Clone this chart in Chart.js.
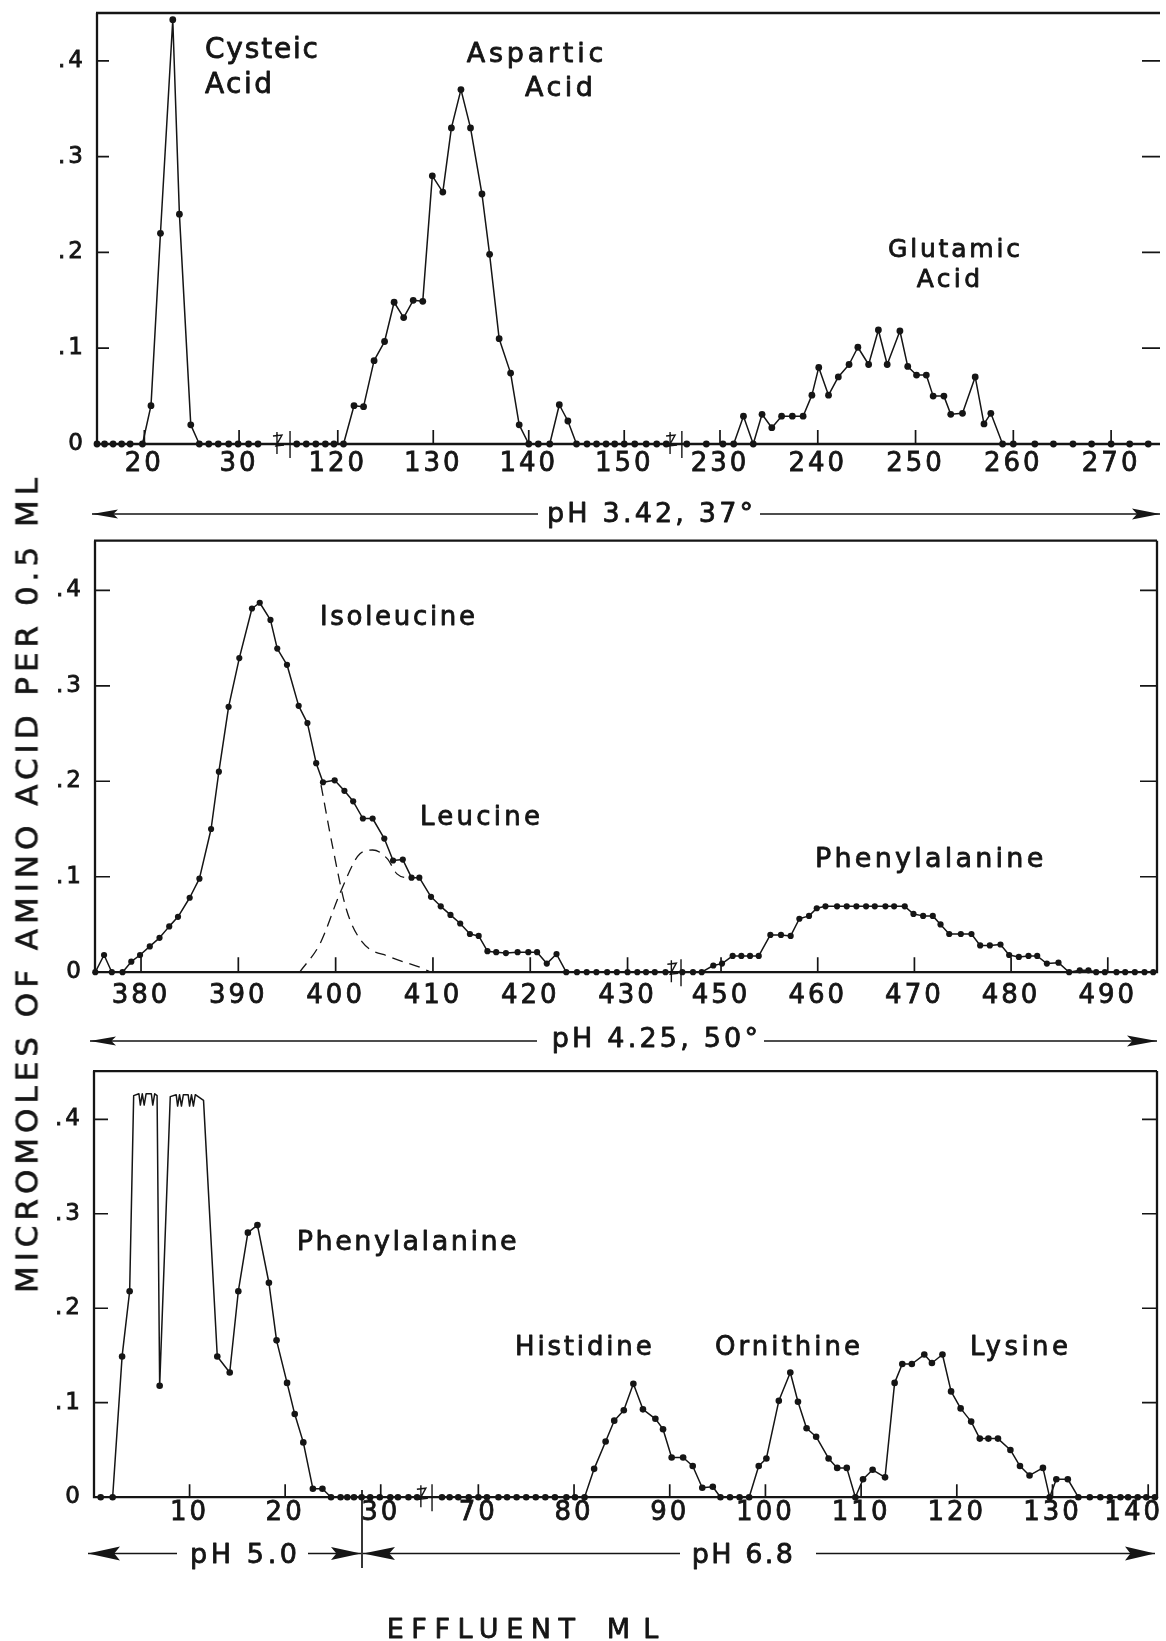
<!DOCTYPE html>
<html>
<head>
<meta charset="utf-8">
<script src="https://cdn.jsdelivr.net/npm/chart.js@4.4.1/dist/chart.umd.min.js"></script>
<style>
  html, body { margin: 0; padding: 0; background: #fff; }
  #wrap { position: relative; width: 1166px; height: 1641px; overflow: hidden; background: #fff; }
  #wrap canvas { position: absolute; left: 0; display: block; }
  #ytitle { position: absolute; white-space: nowrap; line-height: 1; color: #151515;
            font-family: "DejaVu Sans", "Liberation Sans", sans-serif; font-size: 31px; z-index: 5;
            -webkit-text-stroke: 0.7px #151515; }
</style>
</head>
<body>
<div id="wrap">
  <canvas id="cTop" width="1166" height="530" style="top:0px"></canvas>
  <canvas id="cMid" width="1166" height="530" style="top:530px"></canvas>
  <canvas id="cBot" width="1166" height="581" style="top:1060px"></canvas>
  <div id="ytitle">MICROMOLES OF AMINO ACID PER 0.5 ML</div>
</div>
<script>
// ---------------- DATA (effluent ml, micromoles per 0.5 ml) ----------------
const yTickVals = [0, 0.1, 0.2, 0.3, 0.4];
const topTicks = [20, 30, 120, 130, 140, 150, 230, 240, 250, 260, 270];
const midTicks = [380, 390, 400, 410, 420, 430, 450, 460, 470, 480, 490];
const botTicks = [10, 20, 30, 70, 80, 90, 100, 110, 120, 130, 140];

// Panel 1: pH 3.42, 37°
const cysteicMl  = [15.0,15.8,16.7,17.6,18.5,19.8,20.7,21.7,23.0,23.7,24.9,25.8,26.8,27.8,28.9,29.9,31.0,32.0];
const cysteicVal = [0,0,0,0,0,0,0.040,0.220,0.443,0.240,0.020,0,0,0,0,0,0,0];

const asparticMl  = [115.7,116.7,117.7,118.7,119.6,120.6,121.7,122.7,123.8,124.9,125.9,126.9,127.9,128.9,129.9,131.0,131.9,132.9,133.9,135.1,135.9,136.9,138.1,139.0,140.0,141.0,142.2,143.2,144.1,145.0,146.1,147.1,148.1,149.0,150.0,151.1,152.3,153.4,154.4];
const asparticVal = [0,0,0,0,0,0,0.040,0.039,0.087,0.107,0.148,0.132,0.150,0.149,0.280,0.263,0.330,0.370,0.330,0.261,0.198,0.110,0.074,0.020,0,0,0,0.041,0.024,0,0,0,0,0,0,0,0,0,0];

const glutamicMl  = [226.6,228.6,230.3,231.4,232.4,233.4,234.3,235.3,236.3,237.4,238.5,239.4,240.1,241.1,242.1,243.2,244.1,245.2,246.2,247.1,248.4,249.2,250.1,251.1,251.8,252.9,253.6,254.8,256.1,257.0,257.7,258.9,260.0,262.2,264.1,266.1,268.0,270.0,271.9,273.8];
const glutamicVal = [0,0,0,0,0.029,0,0.031,0.017,0.029,0.029,0.029,0.051,0.080,0.051,0.070,0.083,0.101,0.083,0.119,0.083,0.118,0.081,0.072,0.072,0.050,0.050,0.031,0.032,0.070,0.021,0.032,0,0,0,0,0,0,0,0,0];

// Panel 2: pH 4.25, 50°
const isoLeuMl  = [375.3,376.2,377.0,378.1,379.0,379.9,380.9,381.9,382.9,383.8,385.0,386.0,387.2,388.0,389.0,390.1,391.4,392.2,393.3,394.0,395.0,396.2,397.1,398.0,398.7,399.9,400.9,401.8,402.8,403.8,405.0,405.9,406.9,407.8,408.6,409.8,410.8,411.8,412.8,413.8,414.7,415.6,416.5,417.5,418.7,419.8,420.7,421.7,422.7,423.7,424.8,425.8,426.8,427.9,428.9,430.0,431.0,431.9,432.8,433.9];
const isoLeuVal = [0,0.018,0,0,0.011,0.018,0.027,0.036,0.048,0.058,0.078,0.098,0.150,0.210,0.278,0.329,0.381,0.387,0.369,0.339,0.322,0.279,0.261,0.219,0.199,0.201,0.190,0.179,0.161,0.161,0.140,0.117,0.118,0.099,0.099,0.079,0.069,0.060,0.051,0.040,0.038,0.022,0.021,0.020,0.021,0.021,0.021,0.009,0.019,0,0,0,0,0,0,0,0,0,0,0];

const isoDashMl  = [398.5,399.7,401.1,402.7,405.6,408.7,409.8];
const isoDashVal = [0.196,0.131,0.066,0.032,0.016,0.005,0];
const leuDashMl  = [396.3,398.4,400.5,402.5,403.8,405.3,406.3,407.6];
const leuDashVal = [0,0.030,0.084,0.124,0.128,0.119,0.103,0.098];

const pheMidMl  = [446.0,447.1,448.0,449.2,450.1,451.2,452.1,453.0,453.9,455.1,456.2,457.2,458.1,459.1,459.9,460.8,462.0,463.0,464.0,465.0,465.9,467.0,467.9,469.0,469.9,470.9,471.9,472.7,473.6,474.8,475.9,476.8,477.8,478.9,479.8,480.8,481.8,482.7,483.7,484.9,486.0,487.1,488.0,488.8,489.7,490.9,491.8,492.8,493.8,494.7];
const pheMidVal = [0,0,0,0.007,0.009,0.017,0.017,0.017,0.017,0.039,0.039,0.038,0.056,0.059,0.067,0.069,0.069,0.069,0.069,0.069,0.069,0.069,0.069,0.069,0.061,0.059,0.059,0.050,0.040,0.040,0.040,0.028,0.028,0.029,0.018,0.016,0.017,0.017,0.009,0.010,0,0.002,0.002,0,0,0,0,0,0,0];

// Panel 3: pH 5.0 then pH 6.8
const pheBotMl  = [0.7,1.95,2.94,3.73,6.87,12.9,14.2,15.1,16.1,17.1,18.3,19.1,20.2,21.0,21.9,22.9,23.9,24.8,25.8,26.5,27.2,28.0,28.9,29.9,31.0,31.8,32.9,33.8];
const pheBotVal = [0,0,0.149,0.218,0.118,0.149,0.132,0.218,0.280,0.288,0.227,0.166,0.121,0.088,0.058,0.009,0.009,0,0,0,0,0,0,0,0,0,0,0];
// off-scale recorder trace (pen at top of scale, no readings)
const offscaleMl  = [4.15,4.7,4.85,5.05,5.25,5.45,6.0,6.15,6.35,6.6,7.98,8.6,8.75,8.95,9.15,9.35,9.85,10.0,10.2,10.4,10.6,11.46];
const offscaleVal = [0.425,0.427,0.415,0.427,0.415,0.427,0.427,0.415,0.427,0.425,0.424,0.426,0.414,0.426,0.414,0.426,0.426,0.414,0.426,0.414,0.426,0.420];

const basicMl  = [66.2,67.0,67.9,69.0,70.0,70.9,72.1,73.0,74.0,75.0,76.0,77.0,78.0,79.2,80.1,81.1,82.1,83.3,84.2,85.2,86.2,87.2,88.5,89.3,90.2,91.4,92.4,93.4,94.5,95.3,96.3,97.3,98.3,99.3,100.1,101.4,102.6,103.4,104.3,105.3,106.6,107.5,108.5,109.4,110.2,111.2,112.5,113.5,114.3,115.3,116.6,117.4,118.5,119.4,120.4,121.5,122.4,123.3,124.3,125.6,126.6,127.6,129.0,129.7,130.4,131.6,132.7,133.9,135.0,136.0,137.1,137.9,138.9,139.8,140.7];
const basicVal = [0,0,0,0,0,0,0,0,0,0,0,0,0,0,0,0,0.030,0.059,0.081,0.092,0.120,0.093,0.083,0.072,0.042,0.042,0.033,0.010,0.011,0,0,0,0,0.033,0.041,0.102,0.132,0.101,0.073,0.064,0.041,0.031,0.031,0,0.019,0.029,0.021,0.121,0.141,0.141,0.151,0.142,0.151,0.112,0.094,0.080,0.062,0.062,0.062,0.050,0.033,0.023,0.031,0,0.019,0.019,0,0,0,0,0,0,0,0,0];

// ---------------- LAYOUT / STYLE ----------------
const INK = '#151515';
const FONT = '"DejaVu Sans", "Liberation Sans", sans-serif';

// broken x-axis: each segment maps [min,max] ml onto [start,end] fraction of the axis
const SEGMENTS = {
  top: [{min: 15, max: 34, start: 0, end: 0.1693},
        {min: 115, max: 154.8, start: 0.1816, end: 0.5391},
        {min: 226.1, max: 275, start: 0.5502, end: 1}],
  mid: [{min: 375.27, max: 434.5, start: 0, end: 0.5427},
        {min: 445.86, max: 495.09, start: 0.5518, end: 1}],
  bot: [{min: 0, max: 34.2, start: 0, end: 0.3075},
        {min: 65.16, max: 140.92, start: 0.3180, end: 1}]
};

class BrokenLinearScale extends Chart.LinearScale {
  segs() { return SEGMENTS[this.options.segmentKey]; }
  getPixelForValue(value) {
    const segs = this.segs();
    if (!segs || value === null || value === undefined || isNaN(value)) return super.getPixelForValue(value);
    let frac = null;
    for (let i = 0; i < segs.length; i++) {
      const s = segs[i];
      if (value <= s.max || i === segs.length - 1) {
        if (value >= s.min || i === 0) {
          frac = s.start + (value - s.min) / (s.max - s.min) * (s.end - s.start);
        } else {
          const p = segs[i - 1];
          frac = p.end + (value - p.max) / (s.min - p.max) * (s.start - p.end);
        }
        break;
      }
    }
    return this.getPixelForDecimal(frac);
  }
  getValueForPixel(pixel) {
    const segs = this.segs();
    if (!segs) return super.getValueForPixel(pixel);
    const d = this.getDecimalForPixel(pixel);
    for (let i = 0; i < segs.length; i++) {
      const s = segs[i];
      if (d <= s.end || i === segs.length - 1) {
        if (d >= s.start || i === 0) return s.min + (d - s.start) / (s.end - s.start) * (s.max - s.min);
        const p = segs[i - 1];
        return p.max + (d - p.end) / (s.start - p.end) * (s.min - p.max);
      }
    }
    return null;
  }
}
BrokenLinearScale.id = 'brokenLinear';
BrokenLinearScale.defaults = Chart.LinearScale.defaults;
Chart.register(BrokenLinearScale);

const PANELS = {
  top: {
    key: 'top', canvasId: 'cTop', canvasW: 1166, canvasH: 530,
    area: {left: 97, right: 1160, top: 13, bottom: 444}, yMax: 0.45, closed: false,
    xTicks: topTicks, xLabelPad: 5, yTickL: 12, yTickR: 18, xTickLen: 14, pointR: 3.4,
    labels: [
      {t: 'Cysteic',  x0: 205,   x1: 318,   yc: 47.5,  size: 28},
      {t: 'Acid',     x0: 205,   x1: 272,   yc: 82.5,  size: 28},
      {t: 'Aspartic', x0: 466.7, x1: 603.3, yc: 51.7,  size: 27},
      {t: 'Acid',     x0: 525,   x1: 593,   yc: 86,    size: 27},
      {t: 'Glutamic', x0: 888,   x1: 1020,  yc: 247.5, size: 25},
      {t: 'Acid',     x0: 916.7, x1: 980,   yc: 277.5, size: 25}
    ],
    row: {
      y: 514, lines: [[92, 538], [760, 1160]],
      heads: [{x: 92, dir: -1, len: 26, half: 4.5}, {x: 1160, dir: 1, len: 28, half: 5.5}],
      texts: [{t: 'pH 3.42, 37°', x0: 547, x1: 753, yc: 512, size: 27}]
    }
  },
  mid: {
    key: 'mid', canvasId: 'cMid', canvasW: 1166, canvasH: 530,
    area: {left: 95, right: 1157, top: 10.7, bottom: 442.2}, yMax: 0.452, closed: true,
    xTicks: midTicks, xLabelPad: 8, yTickL: 15, yTickR: 17, xTickLen: 15, pointR: 3.1,
    labels: [
      {t: 'Isoleucine',    x0: 320, x1: 475,    yc: 85.5,  size: 26},
      {t: 'Leucine',       x0: 420, x1: 540,    yc: 285.3, size: 26},
      {t: 'Phenylalanine', x0: 815, x1: 1043.3, yc: 327.5, size: 27}
    ],
    row: {
      y: 511, lines: [[90, 537], [764, 1157]],
      heads: [{x: 90, dir: -1, len: 26, half: 4.5}, {x: 1157, dir: 1, len: 30, half: 5.5}],
      texts: [{t: 'pH 4.25, 50°', x0: 551.7, x1: 758, yc: 507, size: 27}]
    }
  },
  bot: {
    key: 'bot', canvasId: 'cBot', canvasW: 1166, canvasH: 581,
    area: {left: 94, right: 1157, top: 11.1, bottom: 437.2}, yMax: 0.451, closed: true,
    xTicks: botTicks, xLabelPad: 0, yTickL: 14, yTickR: 15, xTickLen: 13, pointR: 3.3,
    lastLabelRightEdge: 1163,
    labels: [
      {t: 'Phenylalanine', x0: 296.7, x1: 516.7, yc: 179.7, size: 27},
      {t: 'Histidine',     x0: 515,   x1: 651.7, yc: 286,   size: 26},
      {t: 'Ornithine',     x0: 715,   x1: 860,   yc: 286,   size: 26},
      {t: 'Lysine',        x0: 970,   x1: 1068,  yc: 286,   size: 26},
      {t: 'EFFLUENT',      x0: 386.7, x1: 575,   yc: 568.3, size: 27},
      {t: 'ML',            x0: 606.7, x1: 658.3, yc: 568.3, size: 27}
    ],
    row: {
      y: 493.5, lines: [[88, 177], [308, 361], [363, 680], [816, 1155]],
      heads: [{x: 88, dir: -1, len: 32, half: 7}, {x: 361, dir: 1, len: 30, half: 6.5},
              {x: 363, dir: -1, len: 32, half: 6.5}, {x: 1155, dir: 1, len: 30, half: 7}],
      texts: [{t: 'pH 5.0', x0: 190, x1: 297, yc: 493, size: 27},
              {t: 'pH 6.8', x0: 691.7, x1: 793, yc: 493, size: 27}],
      sep: {x: 362, y0: 430, y1: 508}
    }
  }
};

// ---------------- HELPERS ----------------
const zip = (xs, ys) => xs.map((x, i) => ({x: x, y: ys[i]}));

function series(label, xs, ys, extra) {
  return Object.assign({
    label: label, data: zip(xs, ys),
    borderColor: INK, backgroundColor: INK, borderWidth: 1.5,
    pointRadius: 3, pointBackgroundColor: INK, pointBorderWidth: 0, pointHoverRadius: 0,
    tension: 0, clip: false, fill: false, borderJoinStyle: 'round'
  }, extra || {});
}

function fitText(ctx, L) {
  ctx.font = L.size + 'px ' + FONT;
  ctx.letterSpacing = '0px';
  const w0 = ctx.measureText(L.t).width;
  const n = L.t.length;
  const sp = n > 1 ? (L.x1 - L.x0 - w0) / (n - 1) : 0;
  ctx.letterSpacing = sp.toFixed(2) + 'px';
  ctx.textAlign = 'left';
  ctx.textBaseline = 'alphabetic';
  const yb = L.yc + 0.3645 * L.size;
  ctx.fillText(L.t, L.x0, yb);
  ctx.lineWidth = 0.8;
  ctx.lineJoin = 'round';
  ctx.strokeText(L.t, L.x0, yb);
  ctx.letterSpacing = '0px';
}

function arrowHead(ctx, h, y) {
  const bx = h.x - h.dir * h.len;
  ctx.beginPath();
  ctx.moveTo(h.x, y);
  ctx.lineTo(bx, y - h.half);
  ctx.lineTo(h.x - h.dir * h.len * 0.82, y);
  ctx.lineTo(bx, y + h.half);
  ctx.closePath();
  ctx.fill();
}

function panelPlugin(P) {
  return {
    id: 'panelDeco_' + P.key,
    beforeDraw(chart) {
      chart.ctx.letterSpacing = '3px';
      // keep the last tick label of a panel inside the page (as in the original)
      if (P.lastLabelRightEdge) {
        const xs = chart.scales.x;
        const items = xs.getLabelItems(chart.chartArea);
        const last = items[items.length - 1];
        if (last && last.options && last.options.translation) {
          last.options.textAlign = 'right';
          last.options.translation[0] = P.lastLabelRightEdge;
        }
      }
    },
    afterDraw(chart) {
      const ctx = chart.ctx, a = chart.chartArea;
      const xs = chart.scales.x, ys = chart.scales.y;
      ctx.save();
      ctx.letterSpacing = '0px';
      ctx.strokeStyle = INK; ctx.fillStyle = INK; ctx.lineCap = 'butt';

      // frame
      ctx.lineWidth = 2.3;
      ctx.beginPath();
      ctx.moveTo(a.left, a.top); ctx.lineTo(a.left, a.bottom); ctx.lineTo(a.right, a.bottom);
      ctx.moveTo(a.left - 1, a.top); ctx.lineTo(a.right, a.top);
      if (P.closed) { ctx.moveTo(a.right, a.top); ctx.lineTo(a.right, a.bottom + 1); }
      ctx.stroke();

      // inward tick marks
      ctx.lineWidth = 1.7;
      ctx.beginPath();
      yTickVals.forEach(v => {
        if (v <= 0) return;
        const py = ys.getPixelForValue(v);
        ctx.moveTo(a.left, py); ctx.lineTo(a.left + P.yTickL, py);
        ctx.moveTo(a.right - P.yTickR, py); ctx.lineTo(a.right, py);
      });
      P.xTicks.forEach(v => {
        const px = xs.getPixelForValue(v);
        ctx.moveTo(px, a.bottom); ctx.lineTo(px, a.bottom - P.xTickLen);
      });
      ctx.stroke();

      // axis break marks
      const segs = SEGMENTS[P.key];
      ctx.lineWidth = 1.4;
      for (let i = 0; i < segs.length - 1; i++) {
        const g0 = xs.getPixelForDecimal(segs[i].end);
        const g1 = xs.getPixelForDecimal(segs[i + 1].start);
        const y = a.bottom;
        ctx.beginPath();
        ctx.moveTo(g0, y - 12); ctx.lineTo(g0, y + 10);
        ctx.moveTo(g1, y - 13); ctx.lineTo(g1, y + 14);
        ctx.moveTo(g0 - 4, y - 8); ctx.lineTo(g0 + 5, y - 9);
        ctx.lineTo(g0 - 1, y + 2); ctx.lineTo(g0 + 7, y + 1);
        ctx.stroke();
      }

      // peak labels
      P.labels.forEach(L => fitText(ctx, L));

      // pH arrow row
      const R = P.row;
      ctx.lineWidth = 1.7;
      ctx.beginPath();
      R.lines.forEach(l => { ctx.moveTo(l[0], R.y); ctx.lineTo(l[1], R.y); });
      if (R.sep) { ctx.moveTo(R.sep.x, R.sep.y0); ctx.lineTo(R.sep.x, R.sep.y1); }
      ctx.stroke();
      R.heads.forEach(h => arrowHead(ctx, h, R.y));
      R.texts.forEach(T => fitText(ctx, T));

      ctx.restore();
      ctx.letterSpacing = '0px';
    }
  };
}

function zeroPad(s) { s.paddingLeft = 0; s.paddingRight = 0; s.paddingTop = 0; s.paddingBottom = 0; }

function makePanel(P, datasets) {
  const segs = SEGMENTS[P.key];
  datasets.forEach(d => { if (d.pointRadius !== 0) d.pointRadius = P.pointR; });
  return new Chart(document.getElementById(P.canvasId), {
    type: 'line',
    data: { datasets: datasets },
    options: {
      responsive: false, animation: false, devicePixelRatio: 1, events: [],
      layout: { padding: { top: P.area.top, right: P.canvasW - P.area.right, left: 0, bottom: 0 } },
      plugins: { legend: { display: false }, tooltip: { enabled: false }, title: { display: false } },
      scales: {
        x: {
          type: 'brokenLinear', segmentKey: P.key,
          min: segs[0].min, max: segs[segs.length - 1].max,
          grid: { display: false, drawTicks: false }, border: { display: false },
          ticks: { autoSkip: false, maxRotation: 0, minRotation: 0, padding: P.xLabelPad, color: INK,
                   textStrokeColor: INK, textStrokeWidth: 0.8,
                   font: { family: FONT, size: 26 }, callback: v => String(v) },
          afterBuildTicks: s => { s.ticks = P.xTicks.map(v => ({ value: v })); },
          afterFit: s => { s.height = P.canvasH - P.area.bottom; zeroPad(s); }
        },
        y: {
          type: 'linear', min: 0, max: P.yMax,
          grid: { display: false, drawTicks: false }, border: { display: false },
          ticks: { padding: 11, color: INK, textStrokeColor: INK, textStrokeWidth: 0.8,
                   font: { family: FONT, size: 23 },
                   callback: v => (v === 0 ? '0' : '.' + Math.round(v * 10)) },
          afterBuildTicks: s => { s.ticks = yTickVals.map(v => ({ value: v })); },
          afterFit: s => { s.width = P.area.left; zeroPad(s); }
        }
      }
    },
    plugins: [panelPlugin(P)]
  });
}

// ---------------- CHARTS ----------------
makePanel(PANELS.top, [
  series('Cysteic acid', cysteicMl, cysteicVal),
  series('Aspartic acid', asparticMl, asparticVal),
  series('Glutamic acid', glutamicMl, glutamicVal)
]);

makePanel(PANELS.mid, [
  series('Isoleucine + Leucine', isoLeuMl, isoLeuVal),
  series('Isoleucine (resolved)', isoDashMl, isoDashVal,
         { pointRadius: 0, borderWidth: 1.3, borderDash: [11, 7], tension: 0.4, cubicInterpolationMode: 'monotone' }),
  series('Leucine (resolved)', leuDashMl, leuDashVal,
         { pointRadius: 0, borderWidth: 1.3, borderDash: [11, 7], tension: 0.4, cubicInterpolationMode: 'monotone' }),
  series('Phenylalanine', pheMidMl, pheMidVal)
]);

const pheTraceMl = pheBotMl.concat(offscaleMl);
const pheTraceVal = pheBotVal.concat(offscaleVal);
const order = pheTraceMl.map((x, i) => i).sort((i, j) => pheTraceMl[i] - pheTraceMl[j]);
makePanel(PANELS.bot, [
  series('pH 5.0 trace', order.map(i => pheTraceMl[i]), order.map(i => pheTraceVal[i]), { pointRadius: 0 }),
  series('pH 5.0 readings', pheBotMl, pheBotVal, { showLine: false }),
  series('pH 6.8 (histidine, ornithine, lysine)', basicMl, basicVal)
]);

// ---------------- Y-AXIS TITLE (spans all panels) ----------------
(function () {
  const el = document.getElementById('ytitle');
  const text = el.textContent;
  const mctx = document.createElement('canvas').getContext('2d');
  mctx.font = '31px ' + FONT;
  const w0 = mctx.measureText(text).width;
  const target = 815;
  const sp = (target - w0) / (text.length - 1);
  el.style.letterSpacing = sp.toFixed(2) + 'px';
  const cx = 26.7, cy = 885 - sp / 2;
  el.style.left = cx + 'px';
  el.style.top = cy + 'px';
  el.style.transform = 'translate(-50%, -50%) rotate(-90deg)';
})();
</script>
</body>
</html>
